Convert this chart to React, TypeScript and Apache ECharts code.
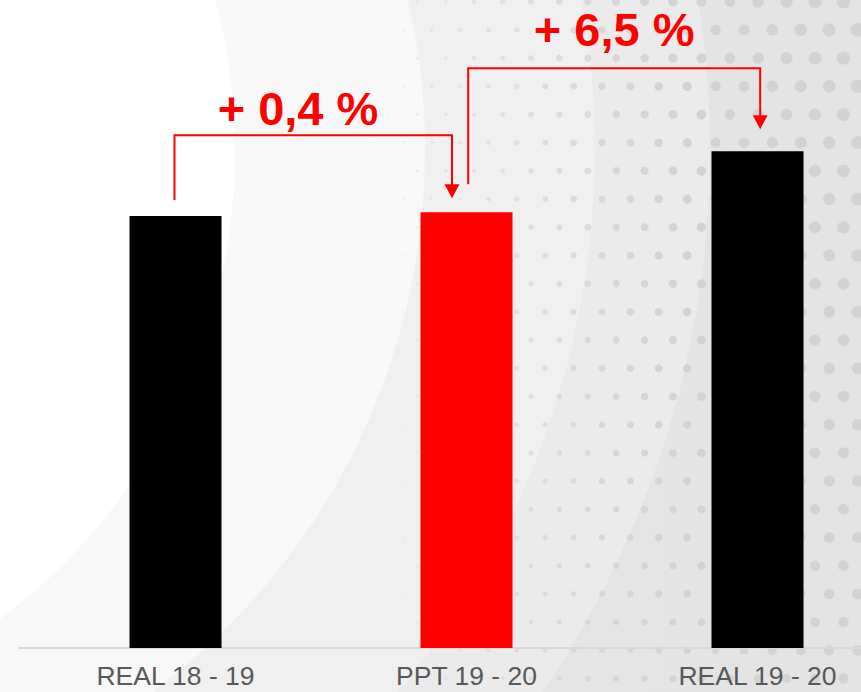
import React, { useEffect, useRef } from "react";
import * as echarts from "echarts";

const categories = ["REAL 18 - 19", "PPT 19 - 20", "REAL 19 - 20"];
const values = [100, 100.4, 106.9];
const barColors = ["#000000", "#ff0000", "#000000"];
const changeLabels = ["+ 0,4 %", "+ 6,5 %"];

const W = 861;
const H = 692;
const CW = 903; // chart canvas wider than the view: the third band runs past the right edge
const RED = "#ff0000";

function buildBackground(): any[] {
  const els: any[] = [];
  els.push({
    type: "rect",
    silent: true,
    z: -10,
    shape: { x: 0, y: 0, width: CW, height: H },
    style: {
      fill: new echarts.graphic.LinearGradient(0, 0, 1, 0, [
        { offset: 0, color: "#e8e8e8" },
        { offset: 1, color: "#e3e3e3" },
      ]),
    },
  });
  const bands = [
    { cx: -250, cy: 150, r: 960, fill: "#ebebeb" },
    { cx: -250, cy: 150, r: 845, fill: "#f0f0f0" },
    { cx: -250, cy: 150, r: 675, fill: "#f8f8f8" },
    { cx: -350, cy: 150, r: 585, fill: "#ffffff" },
  ];
  bands.forEach((b) =>
    els.push({
      type: "circle",
      silent: true,
      z: -9,
      shape: { cx: b.cx, cy: b.cy, r: b.r },
      style: { fill: b.fill },
    })
  );
  // dot pattern
  for (let j = 0; j < 26; j++) {
    const y = 1.7 + 28.2 * j;
    const off = j % 2 === 0 ? 0 : 14.2;
    for (let k = -10; k < 14; k++) {
      const x = 531 + off + 28.4 * k;
      if (x < 300 || x > W + 10) continue;
      const t = (x - 290) / 570;
      const r = Math.max(0.4, t * 7 * (1 - 0.25 * (y / H)));
      const op = Math.min(1, Math.max(0.08, (x - 300) / 380));
      els.push({
        type: "circle",
        silent: true,
        z: -8,
        shape: { cx: x, cy: y, r },
        style: { fill: "#d3d3d3", opacity: op },
      });
    }
  }
  return els;
}

export default function App() {
  const ref = useRef<HTMLDivElement>(null);
  useEffect(() => {
    document.body.style.margin = "0";
    document.body.style.overflow = "hidden";
    const el = ref.current!;
    const chart = echarts.init(el, null, { renderer: "svg" });
    chart.setOption({
      animation: false,
      grid: { left: 30, right: 0, top: 0, bottom: 44, containLabel: false },
      xAxis: {
        type: "category",
        data: categories,
        axisLine: { show: false },
        axisTick: { show: false },
        axisLabel: {
          color: "#595959",
          fontSize: 26.5,
          fontFamily: "Liberation Sans, Arial, sans-serif",
          margin: 14,
        },
      },
      yAxis: { type: "value", min: 54, max: 123, show: false },
      series: [
        {
          type: "bar",
          barWidth: 92,
          data: values.map((v, i) => ({ value: v, itemStyle: { color: barColors[i] } })),
        },
      ],
    });

    const p = values.map((v, i) => chart.convertToPixel({ seriesIndex: 0 }, [i, v]) as number[]);
    const base = chart.convertToPixel({ seriesIndex: 0 }, [0, 54]) as number[];

    const ann: any[] = [];
    ann.push({
      type: "line",
      silent: true,
      z: -5,
      shape: { x1: 18, y1: base[1], x2: CW, y2: base[1] },
      style: { stroke: "#d9d9d9", lineWidth: 2 },
    });
    const arrow = (tx: number, ty: number) => ({
      type: "polygon",
      z: 10,
      shape: { points: [[tx - 7.5, ty - 14], [tx + 7.5, ty - 14], [tx, ty]] },
      style: { fill: RED },
    });
    // left connector
    const L1 = p[1][1] - 77;
    const lx2 = p[1][0] - 14.5;
    ann.push({
      type: "polyline",
      z: 10,
      shape: { points: [[p[0][0] - 1, p[0][1] - 16], [p[0][0] - 1, L1], [lx2, L1], [lx2, p[1][1] - 27]] },
      style: { stroke: RED, lineWidth: 2, fill: null },
    });
    ann.push(arrow(lx2, p[1][1] - 14));
    // right connector
    const L2 = p[2][1] - 83;
    const rx1 = p[1][0] + 1.7;
    const rx2 = p[2][0] + 2.7;
    ann.push({
      type: "polyline",
      z: 10,
      shape: { points: [[rx1, p[1][1] - 28], [rx1, L2], [rx2, L2], [rx2, p[2][1] - 36]] },
      style: { stroke: RED, lineWidth: 2, fill: null },
    });
    ann.push(arrow(rx2, p[2][1] - 22));
    const labelStyle = {
      fill: RED,
      fontSize: 47,
      fontWeight: "bold",
      fontFamily: "Liberation Sans, Arial, sans-serif",
      align: "center",
      verticalAlign: "middle",
    };
    ann.push({
      type: "text",
      z: 10,
      x: p[0][0] + 122.5,
      y: L1 - 27,
      style: { ...labelStyle, text: changeLabels[0] },
    });
    ann.push({
      type: "text",
      z: 10,
      x: (rx1 + rx2) / 2,
      y: L2 - 39,
      style: { ...labelStyle, text: changeLabels[1] },
    });

    chart.setOption({ graphic: { elements: [...buildBackground(), ...ann] } });
    return () => chart.dispose();
  }, []);
  return (
    <div style={{ width: W, height: H, overflow: "hidden" }}>
      <div ref={ref} style={{ width: CW, height: H }} />
    </div>
  );
}
